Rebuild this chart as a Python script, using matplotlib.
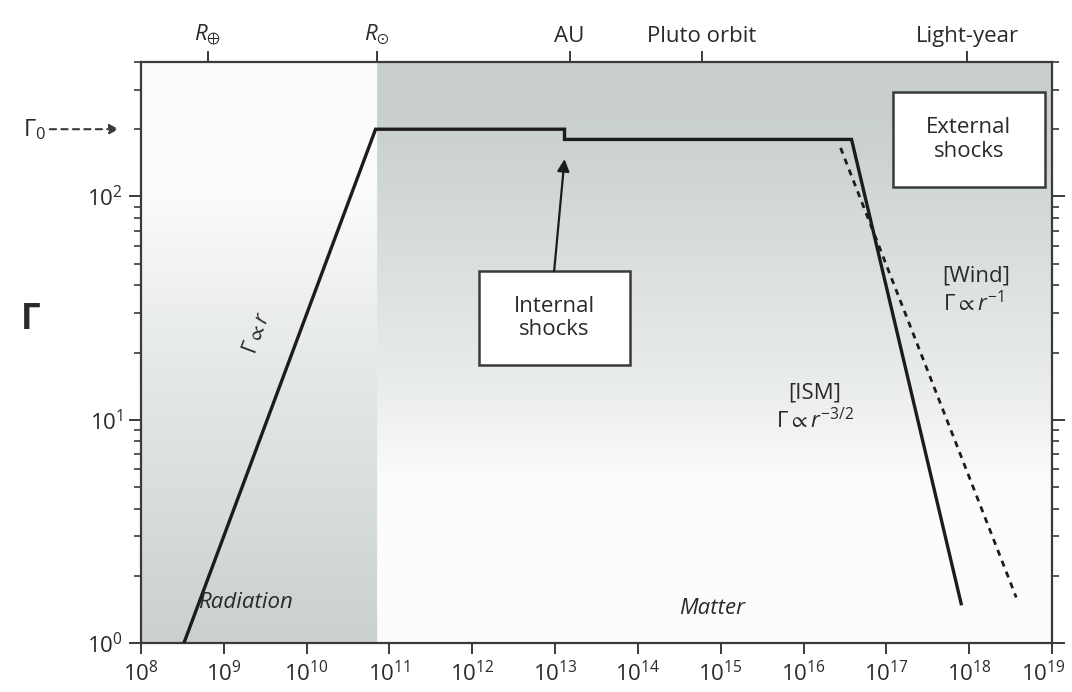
import numpy as np
import matplotlib
matplotlib.use("Agg")
import matplotlib.pyplot as plt
from matplotlib.patches import Rectangle
from matplotlib.ticker import LogLocator, LogFormatterMathtext, NullLocator, NullFormatter
from matplotlib.transforms import blended_transform_factory, ScaledTranslation

plt.rcParams['font.family'] = ['Open Sans', 'DejaVu Sans']
plt.rcParams['mathtext.fontset'] = 'custom'
plt.rcParams['mathtext.rm'] = 'Open Sans'
plt.rcParams['mathtext.it'] = 'Open Sans:italic'
plt.rcParams['mathtext.bf'] = 'Open Sans:bold'
plt.rcParams['mathtext.fallback'] = 'stixsans'

# --- data -------------------------------------------------------------
# Lorentz factor of the jet versus radius (cm)
r_jet = [3.3e8, 6.8e10, 1.3e13, 1.3e13, 3.8e16, 8.0e17]
gamma_jet = [1.0, 200.0, 200.0, 180.0, 180.0, 1.5]

# deceleration in a wind-like medium
r_wind = [2.8e16, 3.7e18]
gamma_wind = [165.0, 1.6]

gamma0 = 200.0
r_sun = 7.0e10          # radiation / matter boundary
r_step = 1.3e13         # internal shocks

x_decades = list(range(8, 20))
y_limits = (1.0, 400.0)

top_positions = [6.4e8, 7.0e10, 1.5e13, 5.9e14, 9.46e17]
top_labels = [r'$R_{\oplus}$', r'$R_{\odot}$', 'AU', 'Pluto orbit', 'Light-year']

# --- figure -----------------------------------------------------------
W, H = 1072, 692
fig = plt.figure(figsize=(W / 100, H / 100), dpi=100)
pos = [141 / W, 1 - 643 / H, 911 / W, 581 / H]

bg = fig.add_axes(pos, zorder=0)
ax = fig.add_axes(pos, zorder=1)
ax.patch.set_visible(False)

ax.set_xscale('log')
ax.set_yscale('log')
ax.set_xlim(10.0 ** x_decades[0], 10.0 ** x_decades[-1])
ax.set_ylim(*y_limits)

# shaded regions: radiation (grey towards the bottom), matter (grey towards the top)
bfrac = ax.transAxes.inverted().transform(ax.transData.transform((r_sun, 1.0)))[0]
nx, ny = 1200, 600
t = np.linspace(0, 1, ny)[:, None]
u = np.linspace(0, 1, nx)[None, :]
f_right = np.clip((t - 0.28) / 0.62, 0, 1) ** 0.8
f_left = np.clip(1.0 - t / 0.78, 0, 1) ** 0.9 * 0.97 + 0.02
f = np.where(u < bfrac, f_left, f_right)
white = np.array([0.99, 0.99, 0.99])
grey = np.array([0.79, 0.815, 0.815])
img = white[None, None, :] * (1 - f[..., None]) + grey[None, None, :] * f[..., None]
bg.imshow(img, extent=(0, 1, 0, 1), origin='lower', aspect='auto', interpolation='bilinear')
bg.set_xlim(0, 1)
bg.set_ylim(0, 1)
bg.axis('off')

ink = '#1c1c1c'
spine_c = '#3a3a3a'
txt_c = '#2a2a2a'

ax.plot(r_jet, gamma_jet, color=ink, lw=2.4, solid_joinstyle='miter', zorder=3)
ax.plot(r_wind, gamma_wind, color=ink, lw=2.0, ls=(0, (2.2, 2.0)), zorder=3)

# axes styling
for s in ax.spines.values():
    s.set_color(spine_c)
    s.set_linewidth(1.6)

ax.set_xticks([10.0 ** k for k in x_decades])
ax.xaxis.set_major_formatter(LogFormatterMathtext())
ax.xaxis.set_minor_locator(NullLocator())
ax.tick_params(axis='x', which='major', direction='out', length=8, width=1.4,
               color=spine_c, labelsize=16, labelcolor=txt_c, pad=5)

ax.yaxis.set_major_locator(LogLocator(base=10, numticks=10))
ax.yaxis.set_minor_locator(LogLocator(base=10, subs=np.arange(2, 10), numticks=20))
ax.yaxis.set_major_formatter(LogFormatterMathtext())
ax.yaxis.set_minor_formatter(NullFormatter())
ax.tick_params(axis='y', which='both', direction='out', left=True, right=True,
               color=spine_c, labelsize=16, labelcolor=txt_c)
ax.tick_params(axis='y', which='major', length=9, width=1.4, pad=4)
ax.tick_params(axis='y', which='minor', length=5, width=1.2)

# keep the last bottom label inside the figure edge
fig.canvas.draw()
last = ax.get_xticklabels()[-1]
last.set_transform(last.get_transform() + ScaledTranslation(-9 / 100, 0, fig.dpi_scale_trans))

# top axis with characteristic radii
axt = ax.twiny()
axt.set_xscale('log')
axt.set_xlim(ax.get_xlim())
axt.set_xticks(top_positions)
axt.set_xticklabels(top_labels)
axt.xaxis.set_minor_locator(NullLocator())
axt.tick_params(axis='x', which='major', direction='out', length=8, width=1.4,
                color=spine_c, labelsize=16, labelcolor=txt_c, pad=3)
for s in axt.spines.values():
    s.set_visible(False)

# y label
ax.text(-0.121, 0.556, r'$\mathbf{\Gamma}$', transform=ax.transAxes,
        ha='center', va='center', fontsize=25, color=txt_c)

# Gamma_0 marker
trans = blended_transform_factory(ax.transAxes, ax.transData)
ax.annotate('', xy=(-0.024, gamma0), xycoords=trans,
            xytext=(-0.100, gamma0), textcoords=trans,
            arrowprops=dict(arrowstyle='-|>', color=spine_c, lw=1.5,
                            linestyle=(0, (3, 2.5)), mutation_scale=14,
                            shrinkA=0, shrinkB=0),
            annotation_clip=False)
ax.text(-0.104, gamma0, r'$\Gamma_0$', transform=trans, ha='right', va='center',
        fontsize=17, color=txt_c)

# region labels
ax.text(0.0626, 0.069, 'Radiation', transform=ax.transAxes, style='italic',
        fontsize=16, ha='left', va='center', color=txt_c)
ax.text(0.627, 0.060, 'Matter', transform=ax.transAxes, style='italic',
        fontsize=16, ha='center', va='center', color=txt_c)

# slope label along the rising branch
p0 = ax.transData.transform((r_jet[0], gamma_jet[0]))
p1 = ax.transData.transform((r_jet[1], gamma_jet[1]))
angle = np.degrees(np.arctan2(p1[1] - p0[1], p1[0] - p0[0]))
ax.text(0.128, 0.534, r'$\Gamma \propto r$', transform=ax.transAxes,
        rotation=angle, rotation_mode='anchor', ha='center', va='center',
        fontsize=15, color=txt_c)

ax.text(0.740, 0.405, '[ISM]\n' + r'$\Gamma \propto r^{-3/2}$', transform=ax.transAxes,
        ha='center', va='center', multialignment='center', fontsize=16,
        color=txt_c, linespacing=1.25)
ax.text(0.880, 0.606, '[Wind]\n' + r'$\Gamma \propto r^{-1}$', transform=ax.transAxes,
        ha='left', va='center', multialignment='left', fontsize=16,
        color=txt_c, linespacing=1.25)

# boxes
def box(x0, y0, x1, y1, label):
    ax.add_patch(Rectangle((x0, y0), x1 - x0, y1 - y0, transform=ax.transAxes,
                           facecolor='white', edgecolor=spine_c, lw=1.8, zorder=4))
    ax.text((x0 + x1) / 2, (y0 + y1) / 2, label, transform=ax.transAxes,
            ha='center', va='center', fontsize=16, color=txt_c,
            linespacing=1.15, zorder=5)

box(0.371, 0.478, 0.537, 0.640, 'Internal\nshocks')
box(0.8255, 0.785, 0.992, 0.948, 'External\nshocks')

ax.annotate('', xy=(r_step, 147), xycoords='data',
            xytext=(0.4535, 0.640), textcoords='axes fraction',
            arrowprops=dict(arrowstyle='-|>', color=ink, lw=1.6,
                            mutation_scale=18, shrinkA=0, shrinkB=0),
            zorder=5)

fig.savefig('out.png', dpi=100)
